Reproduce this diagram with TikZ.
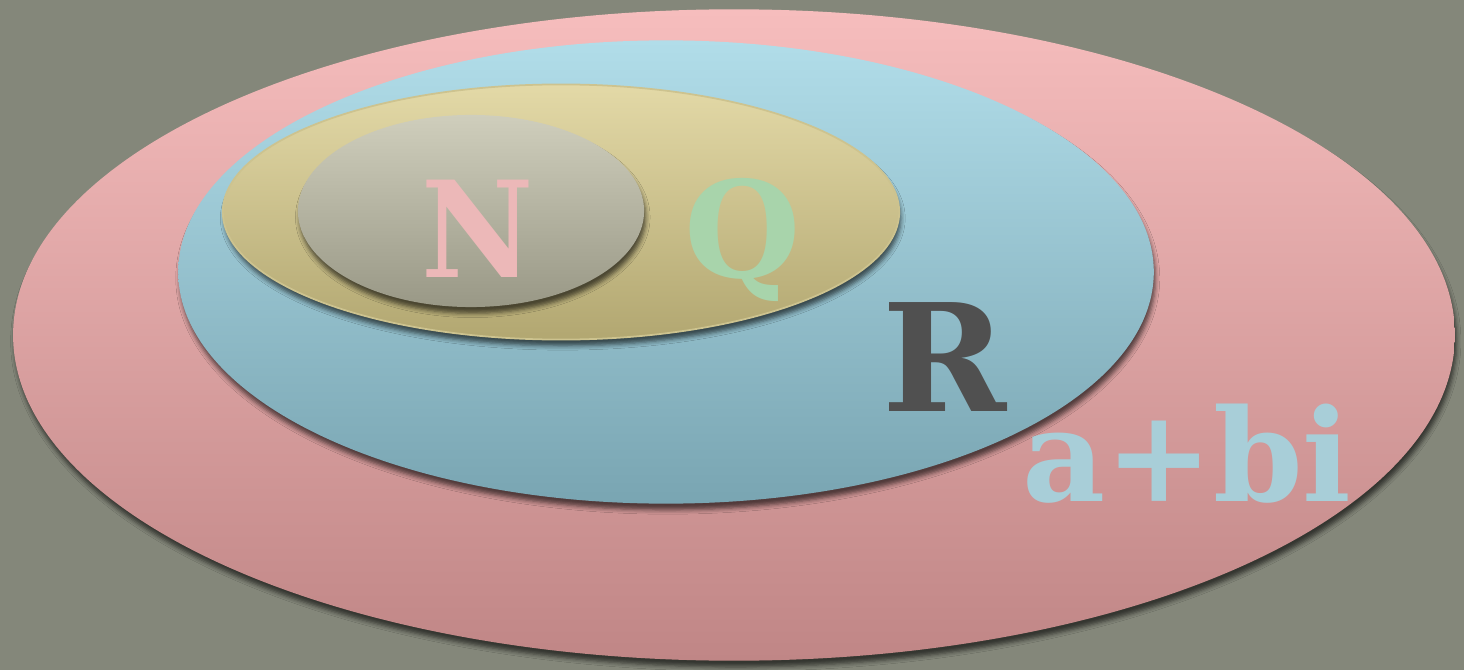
\documentclass[tikz,border=0pt]{standalone}
\usepackage{fontspec}
\setmainfont{DejaVu Serif}
\usetikzlibrary{shapes.geometric, positioning, shadows.blur}

\definecolor{bgback}{HTML}{84877A}
\definecolor{pinktop}{HTML}{F6BDBD}
\definecolor{pinkbot}{HTML}{C08686}
\definecolor{bluetop}{HTML}{B1DDE9}
\definecolor{bluebot}{HTML}{79A5B2}
\definecolor{yeltop}{HTML}{E3D9A7}
\definecolor{yelbot}{HTML}{B2A771}
\definecolor{greytop}{HTML}{CFCEBC}
\definecolor{greybot}{HTML}{999886}
\definecolor{ncol}{HTML}{ECB8B8}
\definecolor{qcol}{HTML}{A8D4AB}
\definecolor{rcol}{HTML}{505050}
\definecolor{ccol}{HTML}{A8CED8}

\begin{document}
\begin{tikzpicture}[
    x=0.01cm, y=-0.01cm,
    set/.style={
        ellipse, inner sep=0pt,
        blur shadow={shadow xshift=0.5pt, shadow yshift=-1.8pt,
            shadow blur radius=1.2pt, shadow opacity=60}
    },
    letter/.style={
        anchor=base, inner sep=0pt, font=\bfseries
    }
]

% Background
\fill[bgback] (0,0) rectangle (1464,670);
\useasboundingbox (0,0) rectangle (1464,670);

% Nested sets
\node[set, top color=pinktop, bottom color=pinkbot,
    minimum width=14.41cm, minimum height=6.51cm] (complex) at (734,335) {};
\node[set, top color=bluetop, bottom color=bluebot,
    minimum width=9.75cm, minimum height=4.63cm] (real) at (666,272) {};
\node[set, top color=yeltop, bottom color=yelbot, draw=yeltop!55!yelbot, line width=0.5pt,
    minimum width=6.76cm, minimum height=2.55cm] (rational) at (561,212) {};
\node[set, top color=greytop, bottom color=greybot,
    minimum width=3.46cm, minimum height=1.92cm] (natural) at (471,211) {};

% Labels
\node[letter, text=ncol, font=\bfseries\fontsize{38}{38}\selectfont, xscale=0.92] (labn) at (478,277) {N};
\node[letter, text=qcol, font=\bfseries\fontsize{38}{38}\selectfont] (labq) at (743,277) {Q};
\node[letter, text=rcol, font=\bfseries\fontsize{42.5}{42.5}\selectfont] (labr) at (945,411) {R};
\node[letter, text=ccol, font=\bfseries\fontsize{36.5}{36.5}\selectfont] (labc) at (1187,501) {a+bi};

\end{tikzpicture}
\end{document}
